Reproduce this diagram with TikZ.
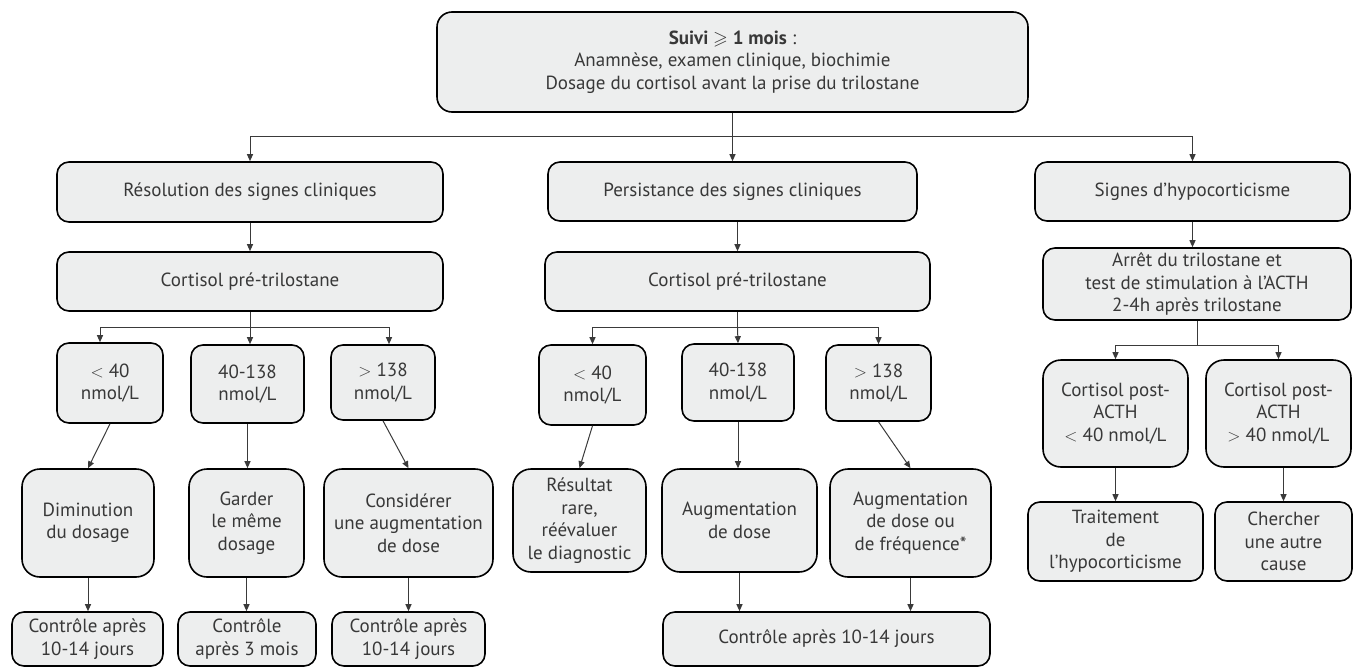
\documentclass[tikz,border=0pt]{standalone}
\usepackage{fontspec}
\usepackage{amssymb}
\setmainfont{PT Sans}
\usetikzlibrary{arrows.meta}
\definecolor{boxfill}{HTML}{EDEEEE}
\definecolor{txtcol}{HTML}{383838}
\definecolor{lncol}{HTML}{3A3A3A}
\tikzset{
  box/.style={draw=black, line width=1.6pt, fill=boxfill, rounded corners=12pt,
    align=center, inner sep=0pt, text=txtcol, font=\fontsize{19}{22.5}\selectfont},
  arr/.style={draw=lncol, line width=1pt, -{Triangle[length=7pt,width=6pt]}},
  plain/.style={draw=lncol, line width=1pt},
}
\begin{document}
\begin{tikzpicture}[x=1pt,y=-1pt]
\useasboundingbox (0,0) rectangle (1353,667);
% row 0
\node[box, minimum width=591pt, minimum height=100pt, rounded corners=15pt] (top) at (732.5,62)
  {\textbf{Suivi {\boldmath$\geqslant$} 1 mois} :\\ Anamnèse, examen clinique, biochimie\\ Dosage du cortisol avant la prise du trilostane};
% row 1
\node[box, minimum width=386pt, minimum height=60pt] (res) at (250,192) {Résolution des signes cliniques};
\node[box, minimum width=369pt, minimum height=59pt] (per) at (732.5,191.5) {Persistance des signes cliniques};
\node[box, minimum width=315pt, minimum height=59pt] (hyp) at (1192.5,191.5) {Signes d’hypocorticisme};
% row 2
\node[box, minimum width=386pt, minimum height=59pt] (cp1) at (250,281.5) {Cortisol pré-trilostane};
\node[box, minimum width=385pt, minimum height=59pt] (cp2) at (737.5,281.5) {Cortisol pré-trilostane};
\node[box, minimum width=308pt, minimum height=72pt] (act) at (1197,284)
  {Arrêt du trilostane et\\test de stimulation à l’ACTH\\2-4h après trilostane};
% row 3
\node[box, minimum width=106pt, minimum height=80pt] (l1) at (110,383) {$<$ 40\\nmol/L};
\node[box, minimum width=113pt, minimum height=78pt] (l2) at (247.5,384) {40-138\\nmol/L};
\node[box, minimum width=104pt, minimum height=75pt] (l3) at (383,382.5) {$>$ 138\\nmol/L};
\node[box, minimum width=107pt, minimum height=80pt] (m1) at (592.5,385) {$<$ 40\\nmol/L};
\node[box, minimum width=112pt, minimum height=77pt] (m2) at (738,382.5) {40-138\\nmol/L};
\node[box, minimum width=105pt, minimum height=76pt] (m3) at (878.5,383) {$>$ 138\\nmol/L};
\node[box, minimum width=145pt, minimum height=107pt, rounded corners=18pt] (r1) at (1115.5,413.5) {Cortisol post-\\ACTH\\$<$ 40 nmol/L};
\node[box, minimum width=145pt, minimum height=107pt, rounded corners=18pt] (r2) at (1278.5,413.5) {Cortisol post-\\ACTH\\$>$ 40 nmol/L};
% row 4
\node[box, minimum width=132pt, minimum height=108pt, rounded corners=18pt] (d1) at (88,523) {Diminution\\du dosage};
\node[box, minimum width=115pt, minimum height=108pt, rounded corners=18pt] (d2) at (246.5,523) {Garder\\le même\\dosage};
\node[box, minimum width=169pt, minimum height=108pt, rounded corners=18pt] (d3) at (408.5,523) {Considérer\\une augmentation\\de dose};
\node[box, minimum width=133pt, minimum height=103pt, rounded corners=18pt] (e1) at (579.5,520.5) {Résultat\\rare,\\réévaluer\\le diagnostic};
\node[box, minimum width=155pt, minimum height=103pt, rounded corners=18pt] (e2) at (739.5,520.5) {Augmentation\\de dose};
\node[box, minimum width=161pt, minimum height=108pt, rounded corners=18pt] (e3) at (910.5,523) {Augmentation\\de dose ou\\de fréquence*};
\node[box, minimum width=175pt, minimum height=79pt] (f1) at (1115.5,541.5) {Traitement\\de\\l’hypocorticisme};
\node[box, minimum width=137pt, minimum height=79pt] (f2) at (1283.5,541.5) {Chercher\\une autre\\cause};
% row 5
\node[box, minimum width=151pt, minimum height=54pt] (c1) at (87.5,639) {Contrôle après\\10-14 jours};
\node[box, minimum width=138pt, minimum height=54pt] (c2) at (247,639) {Contrôle\\après 3 mois};
\node[box, minimum width=153pt, minimum height=54pt] (c3) at (408.5,639) {Contrôle après\\10-14 jours};
\node[box, minimum width=327pt, minimum height=54pt] (cm) at (826.5,639) {Contrôle après 10-14 jours};
% connectors: top split
\coordinate (j0) at (732.5,136);
\draw[plain] (top.south) -- (j0);
\draw[plain] (res.north |- j0) -- (hyp.north |- j0);
\draw[arr] (res.north |- j0) -- (res.north);
\draw[arr] (j0) -- (per.north);
\draw[arr] (hyp.north |- j0) -- (hyp.north);
% row1 -> row2
\draw[arr] (res.south) -- (cp1.north);
\draw[arr] (cp2.north |- per.south) -- (cp2.north);
\draw[arr] (hyp.south) -- (hyp.south |- act.north);
% left split
\coordinate (j1) at (250,327);
\draw[plain] (cp1.south) -- (j1);
\coordinate (j1a) at (100,327);
\coordinate (j1c) at (389,327);
\draw[plain] (j1a) -- (j1c);
\draw[arr] (j1a) -- (j1a |- l1.north);
\draw[arr] (j1) -- (j1 |- l2.north);
\draw[arr] (j1c) -- (j1c |- l3.north);
% middle split
\coordinate (j2) at (737.5,327);
\draw[plain] (cp2.south) -- (j2);
\draw[plain] (m1.north |- j2) -- (m3.north |- j2);
\draw[arr] (m1.north |- j2) -- (m1.north);
\draw[arr] (j2) -- (m2.north);
\draw[arr] (m3.north |- j2) -- (m3.north);
% right split
\coordinate (j3) at (1197,345);
\draw[plain] (act.south) -- (j3);
\draw[plain] (r1.north |- j3) -- (r2.north |- j3);
\draw[arr] (r1.north |- j3) -- (r1.north);
\draw[arr] (r2.north |- j3) -- (r2.north);
% row3 -> row4
\draw[arr] (l1.south) -- (d1.north);
\draw[arr] (l2.south) -- (l2.south |- d2.north);
\draw[arr] (l3.south) -- (d3.north);
\draw[arr] (m1.south) -- (e1.north);
\draw[arr] (m2.south) -- (m2.south |- e2.north);
\draw[arr] (m3.south) -- (e3.north);
\draw[arr] (r1.south) -- (f1.north);
\draw[arr] (f2.north |- r2.south) -- (f2.north);
% row4 -> row5
\draw[arr] (d1.south) -- (d1.south |- c1.north);
\draw[arr] (d2.south) -- (d2.south |- c2.north);
\draw[arr] (d3.south) -- (d3.south |- c3.north);
\draw[arr] (e2.south) -- (e2.south |- cm.north);
\draw[arr] (e3.south) -- (e3.south |- cm.north);
\end{tikzpicture}
\end{document}
